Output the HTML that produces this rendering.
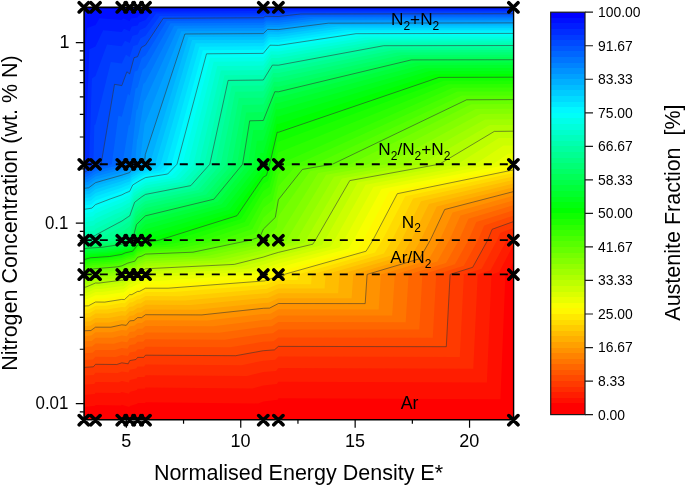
<!DOCTYPE html>
<html><head><meta charset="utf-8"><style>html,body{margin:0;padding:0;background:#fff;}svg{display:block;will-change:transform;}</style></head>
<body><svg width="685" height="486" viewBox="0 0 685 486">
<rect width="685" height="486" fill="#fff"/>
<clipPath id="pc"><rect x="84.10" y="7.30" width="429.50" height="412.40"/></clipPath>
<g clip-path="url(#pc)"><rect x="83.8" y="7.3" width="429.6" height="412.4" fill="#ff0000"/>
<path fill="#ff0f00" d="M83.8,7.3 83.8,407.1 95.1,405.8 95.5,405 120.8,405.4 121.8,404.8 129.4,406.9 129.7,406 137.3,403.7 137.6,402.9 145.2,402.9 145.5,402.2 258.2,403.4 263.3,401.6 277.6,399.7 278.4,398.3 500.4,399.2 505.4,274.4 508.2,273.5 513.4,262.2 513.4,7.3Z"/>
<path fill="#ff1d00" d="M83.8,7.3 83.8,395.1 94.7,394.1 95.5,392.7 119.8,393 121.8,392 129.1,393.7 129.7,392 136.9,390.1 137.6,388.8 144.8,388.8 145.5,387.5 252.6,388.5 263.3,385.5 276.8,384 278.4,381.8 486.9,382.5 491.5,274.4 499.3,271.9 513.4,244.8 513.4,7.3Z"/>
<path fill="#ff2c00" d="M83.8,7.3 83.8,384.8 94.2,383.9 95.5,382.1 118.8,382.3 121.8,381 128.8,382.4 129.7,380.1 136.6,378.5 137.6,376.9 144.4,376.9 145.5,375.2 247,376 263.3,372.1 276,370.9 278.4,368.1 473.3,368.7 477.7,274.4 490.5,270.3 506.8,240.1 508,237.1 513.4,234.9 513.4,7.3Z"/>
<path fill="#ff3a00" d="M83.8,7.3 83.8,375.6 93.8,374.9 95.5,372.7 117.8,372.9 121.8,371.4 128.5,372.6 129.7,369.7 136.2,368.5 137.6,366.5 144.1,366.5 145.5,364.6 241.3,365.2 263.3,360.7 275.2,359.7 278.4,356.5 459.8,356.9 463.9,274.4 481.6,268.8 497.2,240.1 500.1,233.1 513.4,228 513.4,7.3Z"/>
<path fill="#ff4900" d="M83.8,7.3 83.8,367.4 93.4,366.8 95.5,364.3 116.8,364.5 121.8,362.8 128.2,363.8 129.7,360.6 135.9,359.5 137.6,357.4 143.7,357.4 145.5,355.2 235.7,355.7 263.3,350.7 274.4,349.9 278.4,346.4 446.3,346.7 450.1,274.4 472.7,267.3 487.7,240.1 492.1,229.3 513.4,221.6 513.4,7.3Z"/>
<path fill="#ff5700" d="M83.8,7.3 83.8,360 93,359.5 95.5,356.8 115.8,356.9 121.8,355 127.9,355.9 129.7,352.4 135.6,351.5 137.6,349.2 143.4,349.2 145.5,346.8 230.1,347.3 263.3,341.8 273.6,341.2 278.4,337.4 432.8,337.7 436.2,274.4 463.8,265.8 478.1,240.1 484.2,225.6 513.4,215.7 513.4,7.3Z"/>
<path fill="#ff6600" d="M83.8,7.3 83.8,353.2 92.6,352.8 95.5,349.9 114.8,350 121.8,348 127.5,348.8 129.7,345 135.2,344.3 137.6,341.8 143,341.8 145.5,339.3 224.4,339.7 263.3,333.9 272.8,333.3 278.4,329.4 419.3,329.6 422.4,274.4 454.9,264.3 468.5,240.1 476.3,222.1 513.4,210.3 513.4,7.3Z"/>
<path fill="#ff7500" d="M83.8,7.3 83.8,347 92.1,346.6 95.5,343.6 113.8,343.7 121.8,341.5 127.2,342.2 129.7,338.3 134.9,337.6 137.6,335 142.6,335 145.5,332.4 218.8,332.7 263.3,326.7 272,326.2 278.4,322.1 405.7,322.3 408.6,274.4 446,262.9 459,240.1 468.4,218.8 513.4,205.2 513.4,7.3Z"/>
<path fill="#ff8300" d="M83.8,7.3 83.8,341.2 91.7,340.9 95.5,337.7 112.8,337.8 121.8,335.6 126.9,336.2 129.7,332.1 134.5,331.5 137.6,328.8 142.3,328.8 145.5,326 213.2,326.3 263.3,320.1 271.2,319.7 278.4,315.4 392.2,315.5 394.8,274.4 437.2,261.5 449.4,240.1 460.5,215.6 513.4,200.4 513.4,7.3Z"/>
<path fill="#ff9200" d="M83.8,7.3 83.8,335.9 91.3,335.5 95.5,332.2 111.8,332.3 121.8,330 126.6,330.5 129.7,326.3 134.2,325.8 137.6,323 141.9,323 145.5,320.2 207.5,320.4 263.3,314 270.4,313.7 278.4,309.2 378.7,309.4 380.9,274.4 428.3,260.2 439.8,240.1 452.6,212.5 513.4,195.8 513.4,7.3Z"/>
<path fill="#ffa000" d="M83.8,7.3 83.8,330.8 90.9,330.5 95.5,327.2 110.8,327.2 121.8,324.8 126.3,325.3 129.7,320.9 133.9,320.5 137.6,317.6 141.6,317.6 145.5,314.7 201.9,314.9 263.3,308.3 269.6,308.1 278.4,303.5 365.2,303.6 367.1,274.4 419.4,258.8 430.3,240.1 444.7,209.5 513.4,191.6 513.4,7.3Z"/>
<path fill="#ffaf00" d="M83.8,7.3 83.8,326.1 90.5,325.8 95.5,322.4 109.8,322.4 121.8,320 126,320.4 129.7,315.9 133.5,315.5 137.6,312.6 141.2,312.6 145.5,309.6 196.3,309.8 263.3,303 268.7,302.8 278.4,298.2 351.6,298.3 353.3,274.4 410.5,257.5 420.7,240.1 436.8,206.6 513.4,187.5 513.4,7.3Z"/>
<path fill="#ffbd00" d="M83.8,7.3 83.8,321.6 90.1,321.4 95.5,317.9 108.8,317.9 121.8,315.4 125.6,315.8 129.7,311.2 133.2,310.9 137.6,307.8 140.9,307.8 145.5,304.8 190.6,305 263.3,298.1 267.9,297.9 278.4,293.2 338.1,293.3 339.5,274.4 401.6,256.2 411.1,240.1 428.9,203.9 513.4,183.6 513.4,7.3Z"/>
<path fill="#ffcc00" d="M83.8,7.3 83.8,317.4 89.6,317.2 95.5,313.6 107.8,313.6 121.8,311.1 125.3,311.4 129.7,306.7 132.8,306.5 137.6,303.4 140.5,303.4 145.5,300.3 185,300.4 263.3,293.4 267.1,293.3 278.4,288.6 324.6,288.6 325.6,274.4 392.7,254.9 401.6,240.1 421,201.2 513.4,180 513.4,7.3Z"/>
<path fill="#ffdb00" d="M83.8,7.3 83.8,313.4 89.2,313.2 95.5,309.5 106.8,309.6 121.8,307 125,307.3 129.7,302.5 132.5,302.3 137.6,299.2 140.1,299.2 145.5,296.1 179.4,296.2 263.3,289.1 266.3,289 278.4,284.1 311.1,284.2 311.8,274.4 383.9,253.6 392,240.1 413.1,198.6 513.4,176.5 513.4,7.3Z"/>
<path fill="#ffe900" d="M83.8,7.3 83.8,309.6 88.8,309.4 95.5,305.7 105.8,305.7 121.8,303.1 124.7,303.3 129.7,298.5 132.2,298.3 137.6,295.2 139.8,295.2 145.5,292 173.7,292.1 263.3,284.9 265.5,284.8 278.4,280 297.6,280 298,274.4 375,252.4 382.4,240.1 405.2,196.2 513.4,173.1 513.4,7.3Z"/>
<path fill="#fff800" d="M83.8,7.3 83.8,306 88.4,305.8 95.5,302 104.8,302.1 121.8,299.4 124.4,299.6 129.7,294.7 131.8,294.6 137.6,291.4 139.4,291.4 145.5,288.2 168.1,288.2 263.3,281 264.7,280.9 278.4,276 284,276 284.2,274.4 366.1,251.2 372.9,240.1 397.3,193.7 513.4,169.9 513.4,7.3Z"/>
<path fill="#f8ff00" d="M83.8,7.3 83.8,302.5 88,302.4 95.5,298.5 103.8,298.6 121.8,295.9 124.1,296 129.7,291.1 131.5,291 137.6,287.7 139.1,287.7 145.5,284.5 162.5,284.5 263.3,277.2 263.9,277.2 271.9,274.4 278.4,271.8 357.2,250 363.3,240.1 389.4,191.4 513.4,166.8 513.4,7.3Z"/>
<path fill="#e9ff00" d="M83.8,7.3 83.8,299.2 87.5,299.1 95.5,295.2 102.8,295.2 121.8,292.5 123.7,292.6 129.7,287.6 131.1,287.5 137.6,284.2 138.7,284.2 145.5,281 156.8,281 251.6,274.4 261.8,273.8 263.3,273.4 276.2,268.3 278.4,267.5 348.3,248.8 353.7,240.1 381.5,189.1 510.7,164.2 512.7,162.8 513.4,162.8 513.4,7.3Z"/>
<path fill="#dbff00" d="M83.8,7.3 83.8,296 87.1,295.9 95.5,292 101.8,292 121.8,289.2 123.4,289.3 129.7,284.3 130.8,284.2 137.6,280.9 138.3,280.9 145.5,277.6 151.2,277.7 198.8,274.4 254.9,271.4 263.3,269 274.8,264.7 278.4,263.4 339.4,247.6 344.1,240.1 373.5,186.9 492.9,164.2 508.1,153.7 513.4,153.6 513.4,7.3Z"/>
<path fill="#ccff00" d="M83.8,7.3 83.8,292.9 86.7,292.8 95.5,288.9 100.8,288.9 121.8,286.1 123.1,286.2 129.7,281.1 130.5,281.1 137.6,277.7 138,277.7 145.5,274.4 248,269 263.3,264.8 273.4,261.2 278.4,259.6 330.6,246.5 334.6,240.1 365.6,184.7 475.1,164.2 503.5,145.5 513.4,145.4 513.4,7.3Z"/>
<path fill="#bdff00" d="M83.8,7.3 83.8,290 86.3,289.9 95.5,285.9 99.8,285.9 121.8,283.1 122.8,283.2 129.7,278 130.1,278 137.6,274.7 138.3,274.4 145,271.9 145.5,271.6 241.2,266.7 263.3,260.9 272,257.9 278.4,255.9 321.7,245.3 325,240.1 357.7,182.6 457.3,164.2 498.9,138.1 513.4,138 513.4,7.3Z"/>
<path fill="#afff00" d="M513.4,7.3 83.8,7.3 83.8,287.1 85.9,287.1 95.5,283 98.8,283.1 121.8,280.2 122.5,280.3 129.7,275.1 129.8,275.1 131.4,274.4 137.3,272.5 137.6,271.9 144.6,269.4 145.5,268.8 234.3,264.4 263.3,257.1 270.6,254.7 278.4,252.4 312.8,244.2 315.4,240.1 349.8,180.6 439.4,164.2 494.3,131.4 513.4,131.2Z"/>
<path fill="#a0ff00" d="M83.8,7.3 83.8,284.4 85.5,284.3 95.5,280.3 97.8,280.3 121.8,277.4 122.2,277.4 126.5,274.4 129.4,272.8 136.9,270.5 137.6,269.3 144.1,267 145.5,266.2 227.4,262.3 263.3,253.5 269.2,251.7 278.4,249 303.9,243.1 305.9,240.1 341.9,178.6 421.6,164.2 489.7,125.1 513.4,125 513.4,7.3Z"/>
<path fill="#92ff00" d="M83.8,7.3 83.8,281.7 85,281.7 95.5,277.6 96.8,277.6 121.8,274.7 122.3,274.4 129,270.8 136.5,268.5 137.6,266.8 143.6,264.7 145.5,263.6 220.5,260.1 263.3,250.1 267.8,248.7 278.4,245.8 295,242 296.3,240.1 334,176.7 403.8,164.2 485.1,119.4 513.4,119.2 513.4,7.3Z"/>
<path fill="#83ff00" d="M83.8,7.3 83.8,279.2 84.6,279.2 95.5,275 95.8,275 101.4,274.4 120.7,272.6 121.8,272.4 128.6,268.8 136.1,266.6 137.6,264.3 143.1,262.5 145.5,261.2 213.7,258.1 263.3,246.8 266.4,245.9 278.4,242.7 286.1,241 286.7,240.1 326.1,174.8 386,164.2 480.4,114 513.4,113.8 513.4,7.3Z"/>
<path fill="#75ff00" d="M83.8,7.3 83.8,276.7 84.2,276.7 90.3,274.4 95.1,272.8 119.5,270.7 121.8,270.2 128.3,266.9 129.7,266.5 135.7,264.8 137.6,261.9 142.7,260.3 145.5,258.7 206.8,256 263.3,243.6 264.9,243.1 276.9,240.1 278.2,238.5 278.4,236.9 318.2,172.9 368.1,164.2 475.8,109 513.4,108.8 513.4,7.3Z"/>
<path fill="#66ff00" d="M513.4,7.3 83.8,7.3 83.8,274.3 94.5,270.8 118.2,268.7 121.8,268 127.9,265 129.7,264.5 135.3,262.9 137.6,259.6 142.2,258.2 145.5,256.4 199.9,254.1 263.3,240.6 265.3,240.1 276.8,227.2 278.4,216.2 310.3,171.1 350.3,164.2 471.2,104.3 513.4,104.1Z"/>
<path fill="#57ff00" d="M83.8,7.3 83.8,272 93.9,268.8 117,266.9 121.8,265.9 127.5,263.2 129.7,262.6 135,261.1 137.6,257.3 141.7,256.1 145.5,254.1 193,252.2 250.7,240.1 260.1,236.7 263.3,229.2 275.3,217.4 278.4,199.7 302.4,169.4 332.5,164.2 466.6,99.8 513.4,99.6 513.4,7.3Z"/>
<path fill="#49ff00" d="M83.8,7.3 83.8,269.8 93.4,266.9 115.7,265 121.8,263.9 127.1,261.4 129.7,260.7 134.6,259.4 137.6,255.1 141.2,254.1 145.5,251.9 186.2,250.3 235.5,240.1 256.3,232.8 263.3,217.7 273.8,208.6 278.4,186.2 294.5,167.6 314.7,164.2 462,95.6 513.4,95.4 513.4,7.3Z"/>
<path fill="#3aff00" d="M83.8,7.3 83.8,267.7 92.8,265 114.5,263.2 121.8,261.9 126.7,259.6 129.7,258.9 134.2,257.7 137.6,253 140.8,252.1 145.5,249.8 179.3,248.5 220.3,240.1 252.4,229.1 263.3,207.8 272.4,200.7 278.4,174.6 286.6,166 296.8,164.2 457.4,91.6 513.4,91.4 513.4,7.3Z"/>
<path fill="#2cff00" d="M83.8,7.3 83.8,265.6 92.2,263.1 113.2,261.5 121.8,259.9 126.3,257.9 129.7,257.1 133.8,256 137.6,250.9 140.3,250.2 145.5,247.7 172.4,246.7 205.1,240.1 248.6,225.5 263.3,198.9 270.9,193.6 278.4,164.6 278.7,164.3 279,164.2 452.8,87.8 513.4,87.6 513.4,7.3Z"/>
<path fill="#1dff00" d="M83.8,7.3 83.8,263.6 91.6,261.3 112,259.8 121.8,258 125.9,256.2 129.7,255.3 133.4,254.4 137.6,248.9 139.8,248.3 145.5,245.7 165.5,244.9 189.9,240.1 244.7,222.1 263.3,191 269.4,187 275.6,164.2 278,152.3 278.4,152.4 448.2,84.2 513.4,84 513.4,7.3Z"/>
<path fill="#0fff00" d="M83.8,7.3 83.8,261.6 91.1,259.6 95.5,259.2 110.7,258.1 121.8,256.2 125.6,254.5 129.7,253.6 133,252.8 137.6,247 139.4,246.5 145.5,243.7 158.7,243.2 174.6,240.1 240.9,218.9 263.3,183.7 268,181 272.7,164.2 277.6,141.6 278.4,141.7 443.6,80.7 513.4,80.5 513.4,7.3Z"/>
<path fill="#00ff00" d="M83.8,7.3 83.8,259.7 90.5,257.8 95.5,257.5 109.5,256.5 121.8,254.4 125.2,252.9 129.7,251.9 132.7,251.2 137.6,245 138.9,244.7 145.5,241.8 151.8,241.5 159.4,240.1 237,215.7 263.3,177.1 266.5,175.4 269.7,164.2 277.2,132.2 278.4,132.3 439,77.4 513.4,77.2 513.4,7.3Z"/>
<path fill="#00ff0f" d="M83.8,257.8 89.9,256.1 95.5,255.8 108.3,254.8 121.8,252.6 124.8,251.4 129.7,250.3 132.3,249.7 137.6,243.2 138.4,243 145.1,240.1 145.5,239.6 233.2,212.7 263.3,171 265.1,170.2 266.8,164.2 276.8,123.8 278.4,123.9 434.4,74.2 513.4,74 513.4,7.3 83.8,7.3Z"/>
<path fill="#00ff1d" d="M83.8,255.9 89.3,254.5 95.5,254.1 107,253.3 121.8,250.9 124.4,249.8 129.7,248.7 131.9,248.2 137.6,241.3 137.9,241.2 140.7,240.1 145.2,234.6 145.5,234.2 229.3,209.8 263.3,165.4 263.6,165.2 263.9,164.2 276.4,116.3 278.4,116.4 429.7,71.1 513.4,70.9 513.4,7.3 83.8,7.3Z"/>
<path fill="#00ff2c" d="M83.8,7.3 83.8,254.1 88.8,252.9 95.5,252.4 105.8,251.7 121.8,249.2 124,248.3 129.7,247.1 131.5,246.7 137.1,240.1 137.5,238.6 144.8,229.9 145.5,229.2 225.5,207 259,164.2 260.5,153 263.3,152.9 276,109.3 278.4,109.5 425.1,68.2 513.4,67.9 513.4,7.3Z"/>
<path fill="#00ff3a" d="M83.8,7.3 83.8,252.4 88.2,251.3 95.5,250.8 104.5,250.2 121.8,247.5 123.6,246.8 131.1,245.2 135.6,240.1 137.2,233.6 144.5,225.4 145.5,224.5 221.6,204.3 253.5,164.2 256.9,140.7 263.3,140.6 275.6,103 278.4,103.1 420.5,65.3 513.4,65.1 513.4,7.3Z"/>
<path fill="#00ff49" d="M83.8,7.3 83.8,250.7 87.6,249.7 95.5,249.2 103.3,248.7 121.8,245.9 123.3,245.3 130.7,243.8 134,240.1 136.9,228.9 144.2,221.2 145.5,220 217.8,201.7 248.1,164.2 253.3,130.1 263.3,129.9 275.2,97.1 278.4,97.3 415.9,62.6 513.4,62.4 513.4,7.3Z"/>
<path fill="#00ff57" d="M83.8,7.3 83.8,249 87.1,248.2 95.5,247.7 102,247.3 121.8,244.3 122.9,243.9 130.4,242.4 132.4,240.1 136.5,224.5 143.9,217.2 145.5,215.8 213.9,199.2 242.6,164.2 249.7,120.8 263.3,120.5 274.8,91.7 278.4,91.8 411.3,59.9 513.4,59.7 513.4,7.3Z"/>
<path fill="#00ff66" d="M83.8,7.3 83.8,247.3 86.5,246.7 100.8,245.8 121.8,242.7 122.5,242.5 130,241 130.8,240.1 136.2,220.3 143.5,213.4 145.5,211.8 210.1,196.8 237.1,164.2 246.1,112.4 263.3,112.1 274.4,86.5 278.4,86.7 406.7,57.4 513.4,57.1 513.4,7.3Z"/>
<path fill="#00ff75" d="M513.4,7.3 83.8,7.3 83.8,245.7 85.9,245.2 99.5,244.4 121.8,241.2 122.1,241.1 127.6,240.1 129.7,238.2 135.9,216.4 143.2,209.8 145.5,208 206.2,194.4 231.7,164.2 242.5,104.9 263.3,104.6 274,81.7 278.4,81.9 402.1,54.9 513.4,54.7Z"/>
<path fill="#00ff83" d="M129.7,232 135.6,212.6 142.9,206.3 145.5,204.3 202.3,192.1 226.2,164.2 238.9,98 263.3,97.7 273.6,77.2 278.4,77.4 397.5,52.5 513.4,52.3 513.4,7.3 83.8,7.3 83.8,244.1 85.3,243.8 98.3,243 119.3,240.1 121.8,238.5 129.2,232.4Z"/>
<path fill="#00ff92" d="M129.7,226.3 135.2,209 142.6,203 145.5,200.9 198.5,189.9 220.7,164.2 235.3,91.7 263.3,91.3 273.2,73 278.4,73.1 392.9,50.2 513.4,49.9 513.4,7.3 83.8,7.3 83.8,242.6 84.8,242.4 97,241.7 108.7,240.1 120.3,233.1 121.8,232.3 128.8,226.9Z"/>
<path fill="#00ffa0" d="M129.7,221 134.9,205.6 142.2,199.8 145.5,197.6 194.6,187.7 215.3,164.2 231.7,85.8 263.3,85.4 272.8,68.9 278.4,69.1 388.3,47.9 513.4,47.7 513.4,7.3 83.8,7.3 83.8,241.1 84.2,241 95.8,240.4 98,240.1 119.1,227.9 121.8,226.5 128.4,221.8Z"/>
<path fill="#00ffaf" d="M513.4,7.3 83.8,7.3 83.8,238.2 95.1,235.7 95.5,235.1 117.9,223.1 121.8,221.1 128,216.9 129.7,216 134.6,202.3 141.9,196.7 145.5,194.4 190.8,185.6 209.8,164.2 228.1,80.4 263.3,80 272.4,65.1 278.4,65.2 383.6,45.7 513.4,45.5Z"/>
<path fill="#00ffbd" d="M513.4,7.3 83.8,7.3 83.8,232.6 94.6,230.4 95.5,229.1 116.7,218.5 121.8,216.1 127.6,212.4 129.7,211.3 134.3,199.1 141.6,193.8 145.5,191.3 186.9,183.5 204.3,164.2 224.5,75.3 263.3,74.9 272,61.4 278.4,61.6 379,43.6 513.4,43.3Z"/>
<path fill="#00ffcc" d="M513.4,7.3 83.8,7.3 83.8,227.4 94,225.4 95.5,223.6 115.5,214.1 121.8,211.4 127.3,208.1 129.7,206.9 134,196.1 141.3,191 145.5,188.4 183.1,181.5 198.9,164.2 220.9,70.5 263.3,70.1 271.6,57.9 278.4,58.1 374.4,41.5 513.4,41.2Z"/>
<path fill="#00ffdb" d="M513.4,7.3 83.8,7.3 83.8,222.5 93.5,220.7 95.5,218.4 114.3,210 121.8,206.9 126.9,204 129.7,202.7 133.6,193.1 141,188.2 145.5,185.5 179.2,179.6 193.4,164.2 217.3,66 263.3,65.6 271.2,54.5 278.4,54.7 369.8,39.5 513.4,39.2Z"/>
<path fill="#00ffe9" d="M513.4,7.3 83.8,7.3 83.8,217.9 93,216.3 95.5,213.5 113.1,206.1 121.8,202.7 126.5,200.2 129.7,198.7 133.3,190.3 140.6,185.6 145.5,182.8 175.4,177.7 187.9,164.2 213.7,61.7 263.3,61.3 270.8,51.3 278.4,51.5 365.2,37.5 513.4,37.2Z"/>
<path fill="#00fff8" d="M513.4,7.3 83.8,7.3 83.8,213.5 92.4,212.1 95.5,208.9 111.9,202.4 121.8,198.7 126.1,196.5 129.7,194.9 133,187.6 140.3,183 145.5,180.1 171.5,175.8 182.5,164.2 210.1,57.7 263.3,57.3 270.4,48.2 278.4,48.4 360.6,35.5 513.4,35.3Z"/>
<path fill="#00f8ff" d="M513.4,7.3 83.8,7.3 83.8,209.4 91.9,208.1 95.5,204.6 110.6,198.8 121.8,194.9 125.7,192.9 129.7,191.3 132.7,185 140,180.5 145.5,177.6 167.7,174 177,164.2 206.5,53.8 263.3,53.4 270,45.2 278.4,45.4 356,33.7 513.4,33.4Z"/>
<path fill="#00e9ff" d="M513.4,7.3 83.8,7.3 83.8,205.5 91.4,204.4 95.5,200.5 109.4,195.4 121.8,191.2 125.3,189.6 129.7,187.9 132.3,182.4 139.7,178.1 145.5,175.1 163.8,172.2 171.5,164.2 202.9,50.2 263.3,49.7 269.6,42.4 278.4,42.6 351.4,31.8 513.4,31.6Z"/>
<path fill="#00dbff" d="M513.4,7.3 83.8,7.3 83.8,201.8 90.8,200.8 95.5,196.6 108.2,192.2 121.8,187.8 124.9,186.3 129.7,184.6 132,179.9 139.3,175.8 145.5,172.7 160,170.5 166.1,164.2 199.3,46.7 263.3,46.2 269.2,39.6 278.4,39.8 346.8,30 513.4,29.8Z"/>
<path fill="#00ccff" d="M513.4,7.3 83.8,7.3 83.8,198.2 90.3,197.3 95.5,192.9 107,189.1 121.8,184.4 124.5,183.2 129.7,181.4 131.7,177.6 139,173.5 145.5,170.4 156.1,168.8 160.6,164.2 195.7,43.3 263.3,42.9 268.8,36.9 278.4,37.1 342.2,28.3 513.4,28Z"/>
<path fill="#00bdff" d="M513.4,7.3 83.8,7.3 83.8,194.8 89.8,194 95.5,189.3 105.8,186.1 121.8,181.2 124.2,180.3 129.7,178.3 131.4,175.2 138.7,171.3 145.5,168.1 152.3,167.1 155.1,164.2 192.1,40.1 263.3,39.7 268.4,34.3 278.4,34.5 337.6,26.5 513.4,26.3Z"/>
<path fill="#00afff" d="M513.4,7.3 83.8,7.3 83.8,191.5 89.2,190.8 95.5,185.9 104.6,183.2 121.8,178.2 123.8,177.4 129.7,175.4 131,173 138.4,169.2 145.5,165.9 148.4,165.5 149.7,164.2 188.5,37 263.3,36.6 268,31.8 278.4,32 332.9,24.9 513.4,24.6Z"/>
<path fill="#00a0ff" d="M513.4,7.3 83.8,7.3 83.8,188.4 88.7,187.8 95.5,182.7 103.4,180.4 121.8,175.2 123.4,174.6 129.7,172.6 130.7,170.8 138.1,167.1 144.4,164.2 145.3,154.5 145.5,154.1 184.9,34 263.3,33.6 267.6,29.4 278.4,29.6 328.3,23.2 513.4,22.9Z"/>
<path fill="#0092ff" d="M513.4,7.3 83.8,7.3 83.8,185.4 88.2,184.9 95.5,179.6 102.2,177.7 121.8,172.4 123,171.9 129.7,169.8 130.4,168.7 137.7,165.1 139.6,164.2 144.7,123.4 145.5,122.2 181.3,31.2 263.3,30.7 267.2,27.1 278.4,27.3 323.7,21.6 513.4,21.3Z"/>
<path fill="#0083ff" d="M513.4,7.3 83.8,7.3 83.8,182.5 87.6,182 95.5,176.6 101,175.1 121.8,169.6 122.6,169.3 129.7,167.2 130.1,166.6 135,164.2 137.1,139.6 137.6,139.3 144,101.2 145.5,99.5 177.7,28.4 263.3,28 266.8,24.8 278.4,25 319.1,20 513.4,19.8Z"/>
<path fill="#0075ff" d="M513.4,7.3 83.8,7.3 83.8,179.7 87.1,179.3 95.5,173.7 99.8,172.6 121.8,167 122.2,166.8 129.7,164.6 129.8,164.6 130.4,164.2 136.4,109.9 137.6,109.2 143.3,84 145.5,82 174.1,25.8 263.3,25.3 266.4,22.6 278.4,22.8 314.5,18.5 513.4,18.2Z"/>
<path fill="#0066ff" d="M513.4,7.3 83.8,7.3 83.8,177 86.6,176.7 95.5,170.9 98.6,170.1 121.8,164.4 122.4,164.2 128.9,124.2 129.7,125.4 135.6,88.4 137.6,87.6 142.6,69.8 145.5,67.6 170.5,23.2 263.3,22.7 266,20.4 278.4,20.6 309.9,17 513.4,16.7Z"/>
<path fill="#0057ff" d="M513.4,7.3 83.8,7.3 83.8,174.4 86,174.1 95.5,168.2 111.8,164.2 118.3,115.8 121.8,116.7 127.9,93.7 129.7,95.5 134.8,71.5 137.6,70.6 141.9,57.8 145.5,55.5 166.9,20.7 263.3,20.2 265.6,18.3 278.4,18.5 305.3,15.5 513.4,15.2Z"/>
<path fill="#0049ff" d="M513.4,7.3 83.8,7.3 83.8,171.8 85.5,171.7 95.5,165.6 101.1,164.2 114.5,84.3 121.8,85.6 126.9,71.8 129.7,73.9 134,57.7 137.6,56.7 141.3,47.4 145.5,45.1 163.3,18.3 263.3,17.8 265.2,16.3 278.4,16.5 300.7,14 513.4,13.7Z"/>
<path fill="#003aff" d="M513.4,7.3 83.8,7.3 83.8,169.4 85,169.3 93.4,164.2 94.3,125.6 95.5,124.2 110.8,61.9 121.8,63.4 125.9,54.7 129.7,57 133.3,45.9 137.6,44.8 140.6,38.3 145.5,35.8 159.7,15.9 263.3,15.5 264.8,14.3 278.4,14.5 296.1,12.6 513.4,12.3Z"/>
<path fill="#002cff" d="M513.4,7.3 83.8,7.3 83.8,167 84.4,166.9 89.1,164.2 91.9,78.5 95.5,76 107,44.5 121.8,46.2 125,40.7 129.7,43.1 132.5,35.7 137.6,34.6 139.9,30.1 145.5,27.5 156.1,13.6 263.3,13.2 264.4,12.3 278.4,12.6 291.5,11.2 513.4,10.9Z"/>
<path fill="#001dff" d="M513.4,7.3 83.8,7.3 83.8,164.7 83.9,164.7 84.7,164.2 89.4,49.3 95.5,46.4 103.2,30.3 121.8,32 124,28.8 129.7,31.3 131.7,26.6 137.6,25.5 139.2,22.6 145.5,20.1 152.5,11.4 263.3,11 264,10.4 278.4,10.7 286.9,9.8 513.4,9.5Z"/>
<path fill="#000fff" d="M513.4,7.3 83.8,7.3 83.8,66.8 87,28.1 95.5,25 99.5,18.3 121.8,20 123,18.5 129.7,21 130.9,18.5 137.6,17.4 138.5,15.8 145.5,13.2 148.9,9.3 263.3,8.8 263.6,8.6 278.4,8.8 282.2,8.4 513.4,8.1Z"/>
<path fill="#0000ff" d="M121.8,9.6 122,9.4 129.7,12 130.1,11.1 137.6,10 137.9,9.6 144.5,7.3 83.8,7.3 83.8,17 84.5,11.4 95.5,8.2 95.7,7.9Z"/>
<path fill="none" stroke="#333" stroke-opacity="0.8" stroke-width="0.7" d="M83.8,171.8 85.5,171.7 95.5,165.6 101.1,164.2 114.5,84.3 121.8,85.6 126.9,71.8 129.7,73.9 134,57.7 137.6,56.7 141.3,47.4 145.5,45.1 163.3,18.3 263.3,17.8 265.2,16.3 278.4,16.5 300.7,14 513.4,13.7M83.8,188.4 88.7,187.8 95.5,182.7 103.4,180.4 121.8,175.2 123.4,174.6 129.7,172.6 130.7,170.8 138.1,167.1 144.4,164.2 145.3,154.5 184.9,34 263.3,33.6 267.6,29.4 278.4,29.6 328.3,23.2 513.4,22.9M83.8,209.4 91.9,208.1 95.5,204.6 110.6,198.8 121.8,194.9 125.7,192.9 129.7,191.3 132.7,185 140,180.5 145.5,177.6 167.7,174 177,164.2 206.5,53.8 263.3,53.4 270,45.2 278.4,45.4 356,33.7 513.4,33.4M83.8,238.2 95.1,235.7 95.5,235.1 117.9,223.1 121.8,221.1 128,216.9 129.7,216 134.6,202.3 141.9,196.7 145.5,194.4 190.8,185.6 209.8,164.2 228.1,80.4 263.3,80 272.4,65.1 278.4,65.2 383.6,45.7 513.4,45.5M83.8,249 87.1,248.2 102,247.3 121.8,244.3 122.9,243.9 130.4,242.4 132.4,240.1 136.5,224.5 143.9,217.2 145.5,215.8 213.9,199.2 242.6,164.2 249.7,120.8 263.3,120.5 274.8,91.7 278.4,91.8 411.3,59.9 513.4,59.7M83.8,259.7 90.5,257.8 109.5,256.5 121.8,254.4 125.2,252.9 132.7,251.2 137.6,245 138.9,244.7 145.5,241.8 151.8,241.5 159.4,240.1 237,215.7 263.3,177.1 266.5,175.4 269.7,164.2 277.2,132.2 278.4,132.3 439,77.4 513.4,77.2M83.8,272 93.9,268.8 117,266.9 121.8,265.9 127.5,263.2 135,261.1 137.6,257.3 141.7,256.1 145.5,254.1 193,252.2 250.7,240.1 260.1,236.7 263.3,229.2 275.3,217.4 278.4,199.7 302.4,169.4 332.5,164.2 466.6,99.8 513.4,99.6M83.8,287.1 85.9,287.1 95.5,283 98.8,283.1 121.8,280.2 122.5,280.3 129.7,275.1 131.4,274.4 137.3,272.5 137.6,271.9 144.6,269.4 145.5,268.8 234.3,264.4 263.3,257.1 270.6,254.7 278.4,252.4 312.8,244.2 315.4,240.1 349.8,180.6 439.4,164.2 494.3,131.4 513.4,131.2M83.8,306 88.4,305.8 95.5,302 104.8,302.1 121.8,299.4 124.4,299.6 129.7,294.7 131.8,294.6 137.6,291.4 139.4,291.4 145.5,288.2 168.1,288.2 263.3,281 264.7,280.9 278.4,276 284,276 284.2,274.4 366.1,251.2 372.9,240.1 397.3,193.7 513.4,169.9M83.8,330.8 90.9,330.5 95.5,327.2 110.8,327.2 121.8,324.8 126.3,325.3 129.7,320.9 133.9,320.5 137.6,317.6 141.6,317.6 145.5,314.7 201.9,314.9 263.3,308.3 269.6,308.1 278.4,303.5 365.2,303.6 367.1,274.4 419.4,258.8 430.3,240.1 444.7,209.5 513.4,191.6M83.8,367.4 93.4,366.8 95.5,364.3 116.8,364.5 121.8,362.8 128.2,363.8 129.7,360.6 135.9,359.5 137.6,357.4 143.7,357.4 145.5,355.2 235.7,355.7 263.3,350.7 274.4,349.9 278.4,346.4 446.3,346.7 450.1,274.4 472.7,267.3 487.7,240.1 492.1,229.3 513.4,221.6"/></g>
<line x1="83.8" y1="164.25" x2="513.4" y2="164.25" stroke="#000" stroke-width="1.8" stroke-dasharray="8 8"/>
<line x1="83.8" y1="240.05" x2="513.4" y2="240.05" stroke="#000" stroke-width="1.8" stroke-dasharray="8 8"/>
<line x1="83.8" y1="274.40" x2="513.4" y2="274.40" stroke="#000" stroke-width="1.8" stroke-dasharray="8 8"/>
<path d="M83.20,7.30H513.90" stroke="#000" stroke-width="1.7" fill="none"/>
<path d="M513.60,7.30V419.70" stroke="#000" stroke-width="1.4" fill="none"/>
<path d="M84.10,6.50V420.50" stroke="#000" stroke-width="1.6" fill="none"/>
<path d="M83.20,419.70H513.90" stroke="#000" stroke-width="1.6" fill="none"/>
<path d="M83.80,411.81H79.80M83.80,403.55H75.80M83.80,349.23H79.80M83.80,317.45H79.80M83.80,294.91H79.80M83.80,277.42H79.80M83.80,263.13H79.80M83.80,251.05H79.80M83.80,240.59H79.80M83.80,231.36H79.80M83.80,223.10H75.80M83.80,168.78H79.80M83.80,137.00H79.80M83.80,114.46H79.80M83.80,96.97H79.80M83.80,82.68H79.80M83.80,70.60H79.80M83.80,60.14H79.80M83.80,50.91H79.80M83.80,42.65H75.80M126.35,419.70V427.70M183.55,419.70V423.70M240.75,419.70V427.70M297.95,419.70V423.70M355.15,419.70V427.70M412.35,419.70V423.70M469.55,419.70V427.70" stroke="#000" stroke-width="1.2" fill="none"/>
<text transform="translate(69.4,48.10) scale(1.0,1)" font-family="'Liberation Sans', sans-serif" font-size="18" text-anchor="end">1</text>
<text transform="translate(68.4,228.60) scale(0.935,1)" font-family="'Liberation Sans', sans-serif" font-size="18" text-anchor="end">0.1</text>
<text transform="translate(68.4,408.80) scale(0.94,1)" font-family="'Liberation Sans', sans-serif" font-size="18" text-anchor="end">0.01</text>
<text x="126.15" y="447.2" font-family="'Liberation Sans', sans-serif" font-size="18" text-anchor="middle">5</text>
<text x="240.55" y="447.2" font-family="'Liberation Sans', sans-serif" font-size="18" text-anchor="middle">10</text>
<text x="354.95" y="447.2" font-family="'Liberation Sans', sans-serif" font-size="18" text-anchor="middle">15</text>
<text x="469.35" y="447.2" font-family="'Liberation Sans', sans-serif" font-size="18" text-anchor="middle">20</text>
<text x="153.9" y="479.9" font-family="'Liberation Sans', sans-serif" font-size="21.5">Normalised Energy Density E*</text>
<text transform="translate(16.8,370.8) rotate(-90)" font-family="'Liberation Sans', sans-serif" font-size="21.5">Nitrogen Concentration (wt. % N)</text>
<text transform="translate(679.9,320.7) rotate(-90)" font-family="'Liberation Sans', sans-serif" font-size="21.5" xml:space="preserve">Austenite Fraction  [%]</text>
<text x="391.0" y="24.8" font-family="'Liberation Sans', sans-serif" font-size="17.2"><tspan dy="0">N</tspan><tspan font-size="12" dy="4.7">2</tspan><tspan dy="-4.7">+N</tspan><tspan font-size="12" dy="4.7">2</tspan></text>
<text x="378.3" y="155.3" font-family="'Liberation Sans', sans-serif" font-size="17.2"><tspan dy="0">N</tspan><tspan font-size="12" dy="4.7">2</tspan><tspan dy="-4.7">/N</tspan><tspan font-size="12" dy="4.7">2</tspan><tspan dy="-4.7">+N</tspan><tspan font-size="12" dy="4.7">2</tspan></text>
<text x="401.8" y="227.5" font-family="'Liberation Sans', sans-serif" font-size="17.2"><tspan dy="0">N</tspan><tspan font-size="12" dy="4.7">2</tspan></text>
<text x="390.3" y="262.8" font-family="'Liberation Sans', sans-serif" font-size="17.2"><tspan dy="0">Ar/N</tspan><tspan font-size="12" dy="4.7">2</tspan></text>
<text x="400.7" y="408.6" font-family="'Liberation Sans', sans-serif" font-size="17.8"><tspan dy="0">Ar</tspan></text>
<path d="M79.20,2.70l9.20,9.20M79.20,11.90l9.20,-9.20M79.20,159.85l9.20,9.20M79.20,169.05l9.20,-9.20M79.20,235.65l9.20,9.20M79.20,244.85l9.20,-9.20M79.20,270.00l9.20,9.20M79.20,279.20l9.20,-9.20M79.20,415.60l9.20,9.20M79.20,424.80l9.20,-9.20M90.90,2.70l9.20,9.20M90.90,11.90l9.20,-9.20M90.90,159.85l9.20,9.20M90.90,169.05l9.20,-9.20M90.90,235.65l9.20,9.20M90.90,244.85l9.20,-9.20M90.90,270.00l9.20,9.20M90.90,279.20l9.20,-9.20M90.90,415.60l9.20,9.20M90.90,424.80l9.20,-9.20M117.20,2.70l9.20,9.20M117.20,11.90l9.20,-9.20M117.20,159.85l9.20,9.20M117.20,169.05l9.20,-9.20M117.20,235.65l9.20,9.20M117.20,244.85l9.20,-9.20M117.20,270.00l9.20,9.20M117.20,279.20l9.20,-9.20M117.20,415.60l9.20,9.20M117.20,424.80l9.20,-9.20M125.10,2.70l9.20,9.20M125.10,11.90l9.20,-9.20M125.10,159.85l9.20,9.20M125.10,169.05l9.20,-9.20M125.10,235.65l9.20,9.20M125.10,244.85l9.20,-9.20M125.10,270.00l9.20,9.20M125.10,279.20l9.20,-9.20M125.10,415.60l9.20,9.20M125.10,424.80l9.20,-9.20M133.00,2.70l9.20,9.20M133.00,11.90l9.20,-9.20M133.00,159.85l9.20,9.20M133.00,169.05l9.20,-9.20M133.00,235.65l9.20,9.20M133.00,244.85l9.20,-9.20M133.00,270.00l9.20,9.20M133.00,279.20l9.20,-9.20M133.00,415.60l9.20,9.20M133.00,424.80l9.20,-9.20M140.90,2.70l9.20,9.20M140.90,11.90l9.20,-9.20M140.90,159.85l9.20,9.20M140.90,169.05l9.20,-9.20M140.90,235.65l9.20,9.20M140.90,244.85l9.20,-9.20M140.90,270.00l9.20,9.20M140.90,279.20l9.20,-9.20M140.90,415.60l9.20,9.20M140.90,424.80l9.20,-9.20M258.70,2.70l9.20,9.20M258.70,11.90l9.20,-9.20M258.70,159.85l9.20,9.20M258.70,169.05l9.20,-9.20M258.70,235.65l9.20,9.20M258.70,244.85l9.20,-9.20M258.70,270.00l9.20,9.20M258.70,279.20l9.20,-9.20M258.70,415.60l9.20,9.20M258.70,424.80l9.20,-9.20M273.80,2.70l9.20,9.20M273.80,11.90l9.20,-9.20M273.80,159.85l9.20,9.20M273.80,169.05l9.20,-9.20M273.80,235.65l9.20,9.20M273.80,244.85l9.20,-9.20M273.80,270.00l9.20,9.20M273.80,279.20l9.20,-9.20M273.80,415.60l9.20,9.20M273.80,424.80l9.20,-9.20M508.80,2.70l9.20,9.20M508.80,11.90l9.20,-9.20M508.80,159.85l9.20,9.20M508.80,169.05l9.20,-9.20M508.80,235.65l9.20,9.20M508.80,244.85l9.20,-9.20M508.80,270.00l9.20,9.20M508.80,279.20l9.20,-9.20M508.80,415.60l9.20,9.20M508.80,424.80l9.20,-9.20" stroke="#000" stroke-width="3.6" stroke-linecap="round" fill="none"/>
<linearGradient id="cbg" x1="0" y1="1" x2="0" y2="0"><stop offset="0.0000" stop-color="#ff0000"/><stop offset="0.0139" stop-color="#ff0000"/><stop offset="0.0139" stop-color="#ff0000"/><stop offset="0.0278" stop-color="#ff0000"/><stop offset="0.0278" stop-color="#ff0f00"/><stop offset="0.0417" stop-color="#ff0f00"/><stop offset="0.0417" stop-color="#ff1d00"/><stop offset="0.0556" stop-color="#ff1d00"/><stop offset="0.0556" stop-color="#ff2c00"/><stop offset="0.0694" stop-color="#ff2c00"/><stop offset="0.0694" stop-color="#ff3a00"/><stop offset="0.0833" stop-color="#ff3a00"/><stop offset="0.0833" stop-color="#ff4900"/><stop offset="0.0972" stop-color="#ff4900"/><stop offset="0.0972" stop-color="#ff5700"/><stop offset="0.1111" stop-color="#ff5700"/><stop offset="0.1111" stop-color="#ff6600"/><stop offset="0.1250" stop-color="#ff6600"/><stop offset="0.1250" stop-color="#ff7500"/><stop offset="0.1389" stop-color="#ff7500"/><stop offset="0.1389" stop-color="#ff8300"/><stop offset="0.1528" stop-color="#ff8300"/><stop offset="0.1528" stop-color="#ff9200"/><stop offset="0.1667" stop-color="#ff9200"/><stop offset="0.1667" stop-color="#ffa000"/><stop offset="0.1806" stop-color="#ffa000"/><stop offset="0.1806" stop-color="#ffaf00"/><stop offset="0.1944" stop-color="#ffaf00"/><stop offset="0.1944" stop-color="#ffbd00"/><stop offset="0.2083" stop-color="#ffbd00"/><stop offset="0.2083" stop-color="#ffcc00"/><stop offset="0.2222" stop-color="#ffcc00"/><stop offset="0.2222" stop-color="#ffdb00"/><stop offset="0.2361" stop-color="#ffdb00"/><stop offset="0.2361" stop-color="#ffe900"/><stop offset="0.2500" stop-color="#ffe900"/><stop offset="0.2500" stop-color="#fff800"/><stop offset="0.2639" stop-color="#fff800"/><stop offset="0.2639" stop-color="#f8ff00"/><stop offset="0.2778" stop-color="#f8ff00"/><stop offset="0.2778" stop-color="#e9ff00"/><stop offset="0.2917" stop-color="#e9ff00"/><stop offset="0.2917" stop-color="#dbff00"/><stop offset="0.3056" stop-color="#dbff00"/><stop offset="0.3056" stop-color="#ccff00"/><stop offset="0.3194" stop-color="#ccff00"/><stop offset="0.3194" stop-color="#bdff00"/><stop offset="0.3333" stop-color="#bdff00"/><stop offset="0.3333" stop-color="#afff00"/><stop offset="0.3472" stop-color="#afff00"/><stop offset="0.3472" stop-color="#a0ff00"/><stop offset="0.3611" stop-color="#a0ff00"/><stop offset="0.3611" stop-color="#92ff00"/><stop offset="0.3750" stop-color="#92ff00"/><stop offset="0.3750" stop-color="#83ff00"/><stop offset="0.3889" stop-color="#83ff00"/><stop offset="0.3889" stop-color="#75ff00"/><stop offset="0.4028" stop-color="#75ff00"/><stop offset="0.4028" stop-color="#66ff00"/><stop offset="0.4167" stop-color="#66ff00"/><stop offset="0.4167" stop-color="#57ff00"/><stop offset="0.4306" stop-color="#57ff00"/><stop offset="0.4306" stop-color="#49ff00"/><stop offset="0.4444" stop-color="#49ff00"/><stop offset="0.4444" stop-color="#3aff00"/><stop offset="0.4583" stop-color="#3aff00"/><stop offset="0.4583" stop-color="#2cff00"/><stop offset="0.4722" stop-color="#2cff00"/><stop offset="0.4722" stop-color="#1dff00"/><stop offset="0.4861" stop-color="#1dff00"/><stop offset="0.4861" stop-color="#0fff00"/><stop offset="0.5000" stop-color="#0fff00"/><stop offset="0.5000" stop-color="#00ff00"/><stop offset="0.5139" stop-color="#00ff00"/><stop offset="0.5139" stop-color="#00ff0f"/><stop offset="0.5278" stop-color="#00ff0f"/><stop offset="0.5278" stop-color="#00ff1d"/><stop offset="0.5417" stop-color="#00ff1d"/><stop offset="0.5417" stop-color="#00ff2c"/><stop offset="0.5556" stop-color="#00ff2c"/><stop offset="0.5556" stop-color="#00ff3a"/><stop offset="0.5694" stop-color="#00ff3a"/><stop offset="0.5694" stop-color="#00ff49"/><stop offset="0.5833" stop-color="#00ff49"/><stop offset="0.5833" stop-color="#00ff57"/><stop offset="0.5972" stop-color="#00ff57"/><stop offset="0.5972" stop-color="#00ff66"/><stop offset="0.6111" stop-color="#00ff66"/><stop offset="0.6111" stop-color="#00ff75"/><stop offset="0.6250" stop-color="#00ff75"/><stop offset="0.6250" stop-color="#00ff83"/><stop offset="0.6389" stop-color="#00ff83"/><stop offset="0.6389" stop-color="#00ff92"/><stop offset="0.6528" stop-color="#00ff92"/><stop offset="0.6528" stop-color="#00ffa0"/><stop offset="0.6667" stop-color="#00ffa0"/><stop offset="0.6667" stop-color="#00ffaf"/><stop offset="0.6806" stop-color="#00ffaf"/><stop offset="0.6806" stop-color="#00ffbd"/><stop offset="0.6944" stop-color="#00ffbd"/><stop offset="0.6944" stop-color="#00ffcc"/><stop offset="0.7083" stop-color="#00ffcc"/><stop offset="0.7083" stop-color="#00ffdb"/><stop offset="0.7222" stop-color="#00ffdb"/><stop offset="0.7222" stop-color="#00ffe9"/><stop offset="0.7361" stop-color="#00ffe9"/><stop offset="0.7361" stop-color="#00fff8"/><stop offset="0.7500" stop-color="#00fff8"/><stop offset="0.7500" stop-color="#00f8ff"/><stop offset="0.7639" stop-color="#00f8ff"/><stop offset="0.7639" stop-color="#00e9ff"/><stop offset="0.7778" stop-color="#00e9ff"/><stop offset="0.7778" stop-color="#00dbff"/><stop offset="0.7917" stop-color="#00dbff"/><stop offset="0.7917" stop-color="#00ccff"/><stop offset="0.8056" stop-color="#00ccff"/><stop offset="0.8056" stop-color="#00bdff"/><stop offset="0.8194" stop-color="#00bdff"/><stop offset="0.8194" stop-color="#00afff"/><stop offset="0.8333" stop-color="#00afff"/><stop offset="0.8333" stop-color="#00a0ff"/><stop offset="0.8472" stop-color="#00a0ff"/><stop offset="0.8472" stop-color="#0092ff"/><stop offset="0.8611" stop-color="#0092ff"/><stop offset="0.8611" stop-color="#0083ff"/><stop offset="0.8750" stop-color="#0083ff"/><stop offset="0.8750" stop-color="#0075ff"/><stop offset="0.8889" stop-color="#0075ff"/><stop offset="0.8889" stop-color="#0066ff"/><stop offset="0.9028" stop-color="#0066ff"/><stop offset="0.9028" stop-color="#0057ff"/><stop offset="0.9167" stop-color="#0057ff"/><stop offset="0.9167" stop-color="#0049ff"/><stop offset="0.9306" stop-color="#0049ff"/><stop offset="0.9306" stop-color="#003aff"/><stop offset="0.9444" stop-color="#003aff"/><stop offset="0.9444" stop-color="#002cff"/><stop offset="0.9583" stop-color="#002cff"/><stop offset="0.9583" stop-color="#001dff"/><stop offset="0.9722" stop-color="#001dff"/><stop offset="0.9722" stop-color="#000fff"/><stop offset="0.9861" stop-color="#000fff"/><stop offset="0.9861" stop-color="#0000ff"/><stop offset="1.0000" stop-color="#0000ff"/></linearGradient><rect x="550.70" y="12.20" width="34.30" height="402.40" fill="url(#cbg)"/>
<rect x="550.70" y="12.20" width="34.30" height="402.40" fill="none" stroke="#1a1a1a" stroke-width="1.2"/>
<text x="598" y="419.50" font-family="'Liberation Sans', sans-serif" font-size="13.9">0.00</text>
<text x="598" y="385.97" font-family="'Liberation Sans', sans-serif" font-size="13.9">8.33</text>
<text x="598" y="352.43" font-family="'Liberation Sans', sans-serif" font-size="13.9">16.67</text>
<text x="598" y="318.90" font-family="'Liberation Sans', sans-serif" font-size="13.9">25.00</text>
<text x="598" y="285.37" font-family="'Liberation Sans', sans-serif" font-size="13.9">33.33</text>
<text x="598" y="251.83" font-family="'Liberation Sans', sans-serif" font-size="13.9">41.67</text>
<text x="598" y="218.30" font-family="'Liberation Sans', sans-serif" font-size="13.9">50.00</text>
<text x="598" y="184.77" font-family="'Liberation Sans', sans-serif" font-size="13.9">58.33</text>
<text x="598" y="151.23" font-family="'Liberation Sans', sans-serif" font-size="13.9">66.67</text>
<text x="598" y="117.70" font-family="'Liberation Sans', sans-serif" font-size="13.9">75.00</text>
<text x="598" y="84.17" font-family="'Liberation Sans', sans-serif" font-size="13.9">83.33</text>
<text x="598" y="50.63" font-family="'Liberation Sans', sans-serif" font-size="13.9">91.67</text>
<text x="598" y="17.10" font-family="'Liberation Sans', sans-serif" font-size="13.9">100.00</text>
<path d="M585.00,414.60H593.00M585.00,381.07H593.00M585.00,347.53H593.00M585.00,314.00H593.00M585.00,280.47H593.00M585.00,246.93H593.00M585.00,213.40H593.00M585.00,179.87H593.00M585.00,146.33H593.00M585.00,112.80H593.00M585.00,79.27H593.00M585.00,45.73H593.00M585.00,12.20H593.00" stroke="#1a1a1a" stroke-width="1.2" fill="none"/>
</svg></body></html>
